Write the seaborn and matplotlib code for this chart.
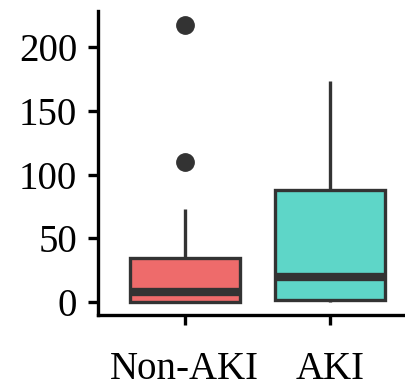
import matplotlib
matplotlib.use("Agg")
import matplotlib.pyplot as plt
import seaborn as sns
import pandas as pd

# Data (constructed so that quartiles/whiskers/outliers match the picture)
groups = ["Non-AKI", "AKI"]
non_aki_values = [0, 0, 0, 0.5, 2, 5, 8, 15, 25, 35, 73, 110, 217]
aki_values = [0, 1, 1.8, 8, 19.5, 40, 87.7, 130, 173]
colors = ["#EE6B6B", "#5ED6C8"]
y_ticks = [0, 50, 100, 150, 200]

df = pd.DataFrame({
    "group": ["Non-AKI"] * len(non_aki_values) + ["AKI"] * len(aki_values),
    "value": non_aki_values + aki_values,
})

sns.set_style("white")
plt.rcParams["font.family"] = ["Liberation Serif", "DejaVu Serif"]

fig = plt.figure(figsize=(4.06, 3.91), dpi=100)
ax = fig.add_axes([0.241, 0.194, 0.757, 0.778])

edge = "#333333"
sns.boxplot(
    data=df, x="group", y="value", order=groups, hue="group", hue_order=groups,
    palette=colors, width=0.76, legend=False, ax=ax, saturation=1,
    linewidth=2.4, linecolor=edge, whis=1.5,
    boxprops=dict(edgecolor=edge, linewidth=2.4),
    medianprops=dict(color=edge, linewidth=6, solid_capstyle="butt"),
    whiskerprops=dict(color=edge, linewidth=2.4),
    capprops=dict(linewidth=0),
    flierprops=dict(marker="o", markerfacecolor=edge, markeredgecolor=edge, markersize=12.5),
)

ax.set_ylim(-10, 228)
ax.set_xlim(-0.6, 1.52)
ax.set_yticks(y_ticks)
ax.set_xlabel("")
ax.set_ylabel("")
for s in ["top", "right"]:
    ax.spines[s].set_visible(False)
for s in ["left", "bottom"]:
    ax.spines[s].set_linewidth(2.4)
    ax.spines[s].set_color("black")
ax.tick_params(axis="both", which="both", length=7, width=2.4, color="black",
               labelsize=28, labelcolor="black")
ax.tick_params(axis="y", pad=8)
ax.tick_params(axis="x", pad=19)
ax.tick_params(left=True, bottom=True)

fig.savefig("out.png", dpi=100)
